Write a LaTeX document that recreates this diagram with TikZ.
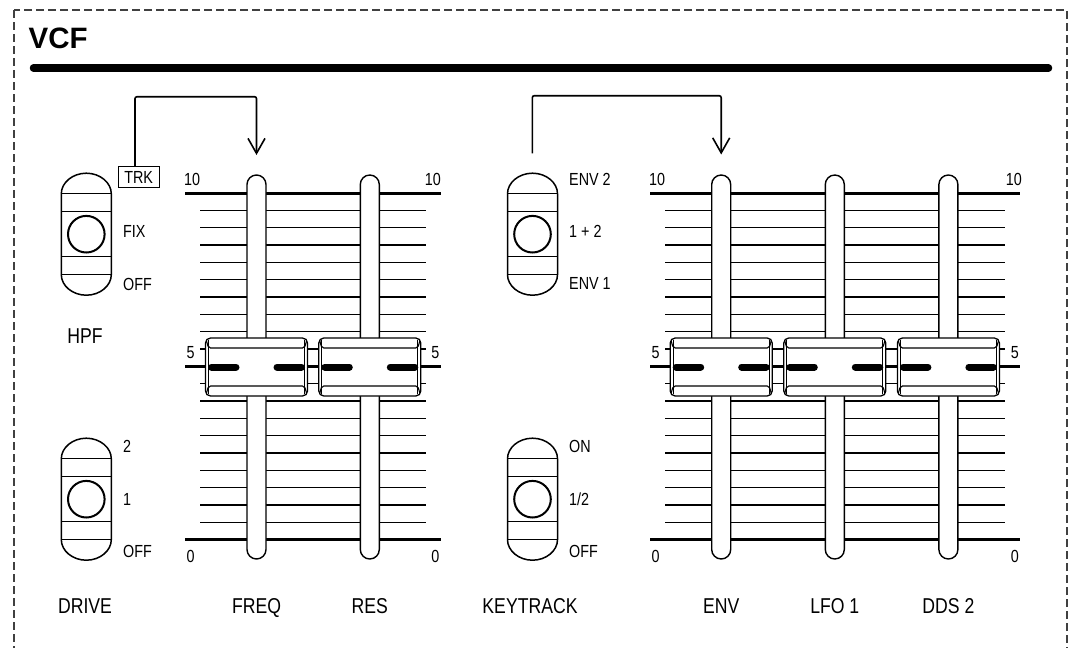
\documentclass[tikz,border=0pt]{standalone}
\usepackage{fontspec}
\setmainfont{Liberation Sans}
\newfontfamily\cond[FakeStretch=0.82]{Liberation Sans}
\usetikzlibrary{arrows.meta}
\tikzset{
  major/.style={line width=3pt},
  minor/.style={line width=1.5pt},
  slot/.style={draw, fill=white, line width=1.4pt, rounded corners=9.5pt},
  lbl/.style={font=\cond\fontsize{21.5}{24}\selectfont, anchor=base, inner sep=0pt},
  sml/.style={font=\cond\fontsize{17.5}{19}\selectfont, inner sep=0pt},
  arr/.style={line width=1.6pt, rounded corners=2pt, -{Straight Barb[length=15pt,width=17pt]}},
  fadercap/.pic={
    \draw[line width=1.3pt, fill=white, rounded corners=5pt] (-51,-29) rectangle (51,29);
    \draw[line width=1.1pt] (-48,-27) -- (-48,27) (48,-27) -- (48,27);
    \draw[line width=1.1pt, rounded corners=2pt] (-50,-26) -- (-48,-19) -- (48,-19) -- (50,-26);
    \draw[line width=1.1pt, rounded corners=2pt] (-50,26) -- (-48,19) -- (48,19) -- (50,26);
    \draw[line width=7pt, line cap=round] (-45,0) -- (-20.5,0) (20.5,0) -- (45,0);
  },
  switchbody/.pic={
    \draw[line width=1.5pt, fill=white] (-25,-40.5) -- (-25,40.5)
      .. controls (-25,51.5) and (-13.8,61) .. (0,61)
      .. controls (13.8,61) and (25,51.5) .. (25,40.5) -- (25,-40.5)
      .. controls (25,-51.5) and (13.8,-61) .. (0,-61)
      .. controls (-13.8,-61) and (-25,-51.5) .. (-25,-40.5) -- cycle;
    \foreach \yy in {-40.5,-22.5,22.5,40.5} \draw[line width=1.4pt] (-25,\yy) -- (25,\yy);
    \draw[line width=2pt] (0,0) circle[radius=18.3pt];
  }
}
\begin{document}
\begin{tikzpicture}[x=1pt,y=-1pt]
\useasboundingbox (0,0) rectangle (1072,648);
% frame
\draw[gray!50!black, line width=1.2pt, dash pattern=on 8pt off 4pt] (14,10) rectangle (1067,700);
\node[font=\bfseries\fontsize{29.5}{32}\selectfont, anchor=base west, inner sep=0pt] (title) at (28.5,48) {VCF};
\draw[line width=7.5pt, line cap=round] (33.5,68) -- (1048.5,68);

% scales
\foreach \k in {1,2,3,4,5,6,7,8,9,11,12,13,14,15,16,17,18,19} {
  \draw[minor] (200,{193+17.33*\k}) -- (426,{193+17.33*\k});
  \draw[minor] (665,{193+17.33*\k}) -- (1005,{193+17.33*\k});
}
\foreach \yy in {193,366.3,539.6} {
  \draw[major] (185,\yy) -- (441,\yy);
  \draw[major] (650,\yy) -- (1020,\yy);
}
% scale numbers
\node[sml, anchor=base west] (a10l) at (184,185) {10};
\node[sml, anchor=base east] (a10r) at (441,185) {10};
\node[sml, anchor=base west] (a5l) at (186.5,358) {5};
\node[sml, anchor=base east] (a5r) at (439.5,358) {5};
\node[sml, anchor=base west] (a0l) at (186.5,562) {0};
\node[sml, anchor=base east] (a0r) at (439.5,562) {0};
\node[sml, anchor=base west] (b10l) at (649,185) {10};
\node[sml, anchor=base east] (b10r) at (1022,185) {10};
\node[sml, anchor=base west] (b5l) at (651.5,358) {5};
\node[sml, anchor=base east] (b5r) at (1019,358) {5};
\node[sml, anchor=base west] (b0l) at (651.5,562) {0};
\node[sml, anchor=base east] (b0r) at (1019,562) {0};

% slots
\foreach \cx in {256.5,369.8,721.2,834.8,948.4} {
  \draw[slot] ({\cx-9.5},175) rectangle ({\cx+9.5},559);
}
% caps
\pic at (256.5,367) {fadercap};
\pic at (369.8,367) {fadercap};
\pic at (721.2,367) {fadercap};
\pic at (834.8,367) {fadercap};
\pic at (948.4,367) {fadercap};

% switches
\pic (hpfsw) at (86.3,234.2) {switchbody};
\pic (drvsw) at (86.3,499.2) {switchbody};
\pic (envsw) at (532.5,234.2) {switchbody};
\pic (ktsw) at (532.5,499.2) {switchbody};

% switch labels
\node[sml, draw, line width=1.2pt, minimum width=41pt, minimum height=21pt] (trk) at (138.7,177.3) {TRK};
\node[sml, anchor=base west] (fix) at (123,237) {FIX};
\node[sml, anchor=base west] (hoff) at (123,290.5) {OFF};
\node[sml, anchor=base west] (d2) at (123,452.5) {2};
\node[sml, anchor=base west] (d1) at (123,505) {1};
\node[sml, anchor=base west] (doff) at (123,557.7) {OFF};
\node[sml, anchor=base west] (e2) at (569,185) {ENV 2};
\node[sml, anchor=base west] (e12) at (569,237.5) {1 + 2};
\node[sml, anchor=base west] (e1) at (569,289) {ENV 1};
\node[sml, anchor=base west] (kon) at (569,452) {ON};
\node[sml, anchor=base west] (khalf) at (569,505) {1/2};
\node[sml, anchor=base west] (koff) at (569,557.7) {OFF};

% main labels
\node[lbl] (hpf) at (85,343) {HPF};
\node[lbl] (drive) at (85,613) {DRIVE};
\node[lbl] (freq) at (256.5,613) {FREQ};
\node[lbl] (res) at (369.8,613) {RES};
\node[lbl] (keytrack) at (530,613) {KEYTRACK};
\node[lbl] (env) at (721.2,613) {ENV};
\node[lbl] (lfo) at (834.8,613) {LFO 1};
\node[lbl] (dds) at (948.4,613) {DDS 2};

% arrows
\coordinate (freqin) at (256.5,155);
\coordinate (hpfbend) at (135,96.7);
\draw[arr] ([xshift=-3.7pt]trk.north) -- (hpfbend) -| (freqin);
\coordinate (envsrc) at (532.3,153.3);
\coordinate (envbend) at (532.3,95.7);
\coordinate (envin) at (721.2,154.5);
\draw[arr] (envsrc) -- (envbend) -| (envin);
\end{tikzpicture}
\end{document}
